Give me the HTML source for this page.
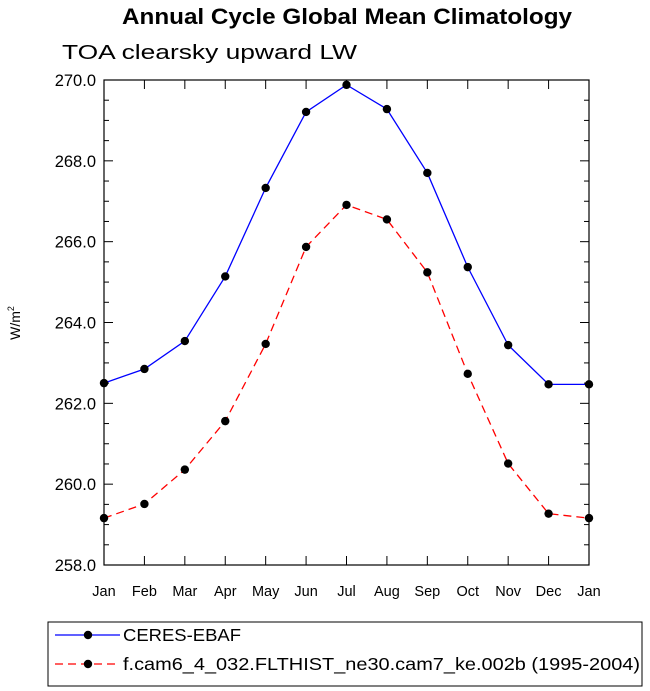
<!DOCTYPE html>
<html><head><meta charset="utf-8"><style>
html,body{margin:0;padding:0;background:#fff;}
svg{display:block;font-family:"Liberation Sans",Arial,sans-serif;}
</style></head><body>
<svg id="chart" width="650" height="691" viewBox="0 0 650 691">
<text x="122" y="24" font-size="22" font-weight="bold" textLength="450" lengthAdjust="spacingAndGlyphs">Annual Cycle Global Mean Climatology</text>
<text x="62" y="59" font-size="20" textLength="295" lengthAdjust="spacingAndGlyphs">TOA clearsky upward LW</text>
<text transform="translate(20,323) rotate(-90)" text-anchor="middle" font-size="14">W/m<tspan font-size="9" dy="-6">2</tspan></text>
<g id="axes"></g>
<g id="series"></g>
<g id="legend"></g>
</svg>
<script>
const months = ["Jan","Feb","Mar","Apr","May","Jun","Jul","Aug","Sep","Oct","Nov","Dec","Jan"];
const ceres = [262.50,262.85,263.54,265.14,267.33,269.21,269.88,269.28,267.70,265.37,263.44,262.47,262.47];
const model = [259.16,259.51,260.36,261.56,263.47,265.87,266.91,266.55,265.24,262.73,260.51,259.27,259.16];
const yTicks = [258,260,262,264,266,268,270];
const yTickLabels = ["258.0","260.0","262.0","264.0","266.0","268.0","270.0"];
const seriesNames = ["CERES-EBAF","f.cam6_4_032.FLTHIST_ne30.cam7_ke.002b (1995-2004)"];
const legendWidths = [118,517];

const NS="http://www.w3.org/2000/svg";
const L=104,R=589,T=80,B=565,yMin=258,yMax=270;
const xs=i=>L+(R-L)*i/(months.length-1);
const ys=v=>B-(B-T)*(v-yMin)/(yMax-yMin);
function mk(tag,attrs,parent){const e=document.createElementNS(NS,tag);for(const k in attrs)e.setAttribute(k,attrs[k]);parent.appendChild(e);return e;}
const axes=document.getElementById('axes');
const frame=mk('rect',{x:L,y:T,width:R-L,height:B-T,fill:'none',stroke:'#000','stroke-width':1.2},axes);


for(let v=yMin;v<=yMax+1e-9;v+=0.5){
  const y=ys(v);const major=Math.abs(v-Math.round(v/2)*2)<1e-9;const len=major?9:5;
  mk('line',{x1:L,y1:y,x2:L+len,y2:y,stroke:'#000'},axes);
  mk('line',{x1:R,y1:y,x2:R-len,y2:y,stroke:'#000'},axes);
}
yTicks.forEach((v,i)=>{
  const t=mk('text',{x:L-8,y:ys(v)+6,'text-anchor':'end','font-size':16.5},axes);
  t.textContent=yTickLabels[i];
  
  
});
months.forEach((m,i)=>{
  const x=xs(i);
  mk('line',{x1:x,y1:B,x2:x,y2:B-9,stroke:'#000'},axes);
  mk('line',{x1:x,y1:T,x2:x,y2:T+9,stroke:'#000'},axes);
  const t=mk('text',{x:x,y:B+31,'text-anchor':'middle','font-size':14.5},axes);
  t.textContent=m;
  
  
});
const sg=document.getElementById('series');
function drawSeries(vals,color,dash,name){
  const g=mk('g',{},sg);
  
  
  const pts=vals.map((v,i)=>xs(i)+','+ys(v)).join(' ');
  const pl=mk('polyline',{points:pts,fill:'none',stroke:color,'stroke-width':1.3},g);
  if(dash)pl.setAttribute('stroke-dasharray',dash);
  vals.forEach((v,i)=>{
    const c=mk('circle',{cx:xs(i),cy:ys(v),r:4.2,fill:'#000'},g);
    
    
  });
}
drawSeries(ceres,'#0000ff',null,'ceres-series');
drawSeries(model,'#ff0000','8,5','model-series');
const lg=document.getElementById('legend');


mk('rect',{x:48,y:622,width:594,height:64,fill:'#fff',stroke:'#000','stroke-width':1},lg);
[[0,'#0000ff',null],[1,'#ff0000','8,5']].forEach(([i,c,d])=>{
  const y=635+i*29;
  const ln=mk('line',{x1:55,y1:y,x2:120,y2:y,stroke:c,'stroke-width':1.3},lg);
  if(d)ln.setAttribute('stroke-dasharray',d);
  mk('circle',{cx:88,cy:y,r:4.2,fill:'#000'},lg);
  const t=mk('text',{x:123,y:y+6,'font-size':17.5,textLength:legendWidths[i],lengthAdjust:'spacingAndGlyphs'},lg);
  t.textContent=seriesNames[i];
  
  
});
</script>
</body></html>
